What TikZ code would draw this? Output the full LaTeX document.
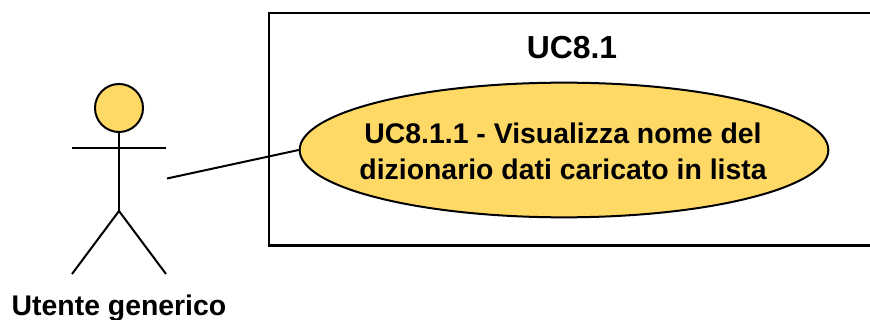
\documentclass[tikz,border=0pt]{standalone}
\usepackage{fontspec}
\setmainfont{Liberation Sans}
\usetikzlibrary{shapes.geometric}
\definecolor{ucfill}{HTML}{FFD966}
\tikzset{
  ln/.style={draw=black,line width=1.5pt},
  lab/.style={font=\bfseries\fontsize{21.3pt}{27.5pt}\selectfont,align=center,inner sep=0pt},
}
\begin{document}
\begin{tikzpicture}[x=0.75pt,y=-0.75pt]
\useasboundingbox (0,0) rectangle (870,320);
\fill[white] (0,0) rectangle (870,320);
\coordinate (boxa) at (269,13);
\coordinate (boxb) at (872,245.5);
\draw[ln] (boxa) rectangle (boxb);
\node[lab,font=\bfseries\fontsize{23.9pt}{28pt}\selectfont] (title) at (572,48) {UC8.1};
\node[ellipse,ln,fill=ucfill,minimum width=396.5pt,minimum height=101pt,inner sep=0pt] (uc) at (564,150) {};
\node[lab] (uctext) at (563,151.5) {UC8.1.1 - Visualizza nome del\\dizionario dati caricato in lista};
\node[circle,ln,fill=ucfill,minimum size=36pt,inner sep=0pt] (head) at (119,108) {};
\coordinate (hip) at (119,211);
\coordinate (armL) at (72,148);
\coordinate (armR) at (166,148);
\coordinate (footL) at (72,274);
\coordinate (footR) at (166,274);
\coordinate (free) at (167,178.5);
\draw[ln] (head) -- (hip);
\draw[ln] (armL) -- (armR);
\draw[ln] (footL) -- (hip) -- (footR);
\draw[ln] (free) -- (uc.west);
\node[lab] (actor) at (119,308) {Utente generico};
\end{tikzpicture}
\end{document}
